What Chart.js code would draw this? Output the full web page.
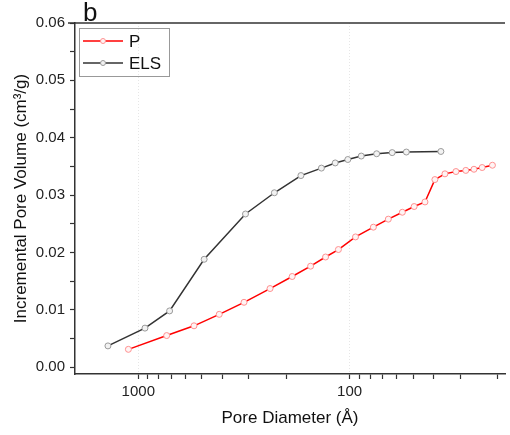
<!DOCTYPE html>
<html>
<head>
<meta charset="utf-8">
<script src="https://cdn.jsdelivr.net/npm/chart.js@4.4.1/dist/chart.umd.min.js"></script>
<style>
  html, body { margin: 0; padding: 0; background: #fff; }
  #wrap { width: 510px; height: 435px; position: relative; }
</style>
</head>
<body>
<div id="wrap"><canvas id="poreChart"></canvas></div>
<script>
// Pore diameter (Å) and incremental pore volume (cm3/g)
const pDiameter = [1114, 734, 545, 414, 316, 238, 187, 153, 130, 113, 93.8, 77.2, 65.6, 56.3, 49.5, 44.0, 39.5, 35.4, 31.4, 28.2, 25.8, 23.6, 21.1];
const pVolume = [0.0031, 0.0055, 0.0072, 0.0092, 0.0113, 0.0137, 0.0158, 0.0176, 0.0192, 0.0205, 0.0227, 0.0244, 0.0258, 0.0270, 0.0280, 0.0288, 0.0327, 0.0337, 0.0341, 0.0343, 0.0345, 0.0348, 0.0352];

const elsDiameter = [1392, 930, 711, 488, 311, 227, 170, 136, 117, 102, 88.1, 74.5, 62.9, 53.9, 37.0];
const elsVolume = [0.0037, 0.0068, 0.0098, 0.0188, 0.0267, 0.0304, 0.0334, 0.0347, 0.0356, 0.0362, 0.0368, 0.0372, 0.0374, 0.0375, 0.0376];

// axis ticks
const xTicks = [1000, 900, 800, 700, 600, 500, 400, 300, 200, 100, 90, 80, 70, 60, 50, 40, 30, 20];
const xLabels = [1000, 100];
const yTicks = [0, 0.005, 0.01, 0.015, 0.02, 0.025, 0.03, 0.035, 0.04, 0.045, 0.05, 0.055, 0.06];

const FONT = "'Liberation Sans', Arial, sans-serif";

function toPoints(xs, ys) {
    return xs.map((x, i) => ({ x: x, y: ys[i] }));
}

// legend box, top frame line and panel letter
const extras = {
    id: 'extras',
    afterDraw(chart) {
        const ctx = chart.ctx;
        const area = chart.chartArea;
        ctx.save();

        // top frame
        ctx.strokeStyle = '#333';
        ctx.lineWidth = 1.5;
        ctx.beginPath();
        ctx.moveTo(area.left - 7, area.top);
        ctx.lineTo(area.right, area.top);
        ctx.stroke();

        // panel letter
        ctx.fillStyle = '#111';
        ctx.font = '26px ' + FONT;
        ctx.textAlign = 'left';
        ctx.textBaseline = 'alphabetic';
        ctx.fillText('b', 83, 21);

        // legend
        ctx.strokeStyle = '#999';
        ctx.lineWidth = 1;
        ctx.strokeRect(79.5, 28.5, 90, 48);
        ctx.font = '17px ' + FONT;
        ctx.textBaseline = 'middle';
        chart.data.datasets.forEach((ds, i) => {
            const y = 41 + i * 22;
            ctx.strokeStyle = ds.borderColor;
            ctx.lineWidth = ds.borderWidth;
            ctx.beginPath();
            ctx.moveTo(83, y);
            ctx.lineTo(123, y);
            ctx.stroke();
            ctx.beginPath();
            ctx.arc(103, y, 2.5, 0, Math.PI * 2);
            ctx.fillStyle = ds.pointBackgroundColor;
            ctx.fill();
            ctx.strokeStyle = ds.pointBorderColor;
            ctx.lineWidth = 1;
            ctx.stroke();
            ctx.fillStyle = '#111';
            ctx.fillText(ds.label, 129, y + 1);
        });
        ctx.restore();
    }
};

const ctx = document.getElementById('poreChart').getContext('2d');
const poreChart = new Chart(ctx, {
    type: 'line',
    data: {
        datasets: [{
            label: 'P',
            data: toPoints(pDiameter, pVolume),
            borderColor: '#ff0000',
            borderWidth: 1.5,
            pointRadius: 3,
            pointBorderWidth: 1,
            pointBorderColor: '#ff9090',
            pointBackgroundColor: '#fff4f4',
            tension: 0
        }, {
            label: 'ELS',
            data: toPoints(elsDiameter, elsVolume),
            borderColor: '#333333',
            borderWidth: 1.5,
            pointRadius: 3,
            pointBorderWidth: 1,
            pointBorderColor: '#9a9a9a',
            pointBackgroundColor: '#f2f2f2',
            tension: 0
        }]
    },
    options: {
        responsive: true,
        maintainAspectRatio: false,
        animation: false,
        layout: {
            padding: { top: 23, right: 0, bottom: 0, left: 0 }
        },
        scales: {
            x: {
                type: 'logarithmic',
                reverse: true,
                min: 18.4,
                max: 1993,
                afterBuildTicks: scale => {
                    scale.ticks = xTicks.map(v => ({ value: v }));
                },
                afterFit: scale => { scale.height = 61; },
                ticks: {
                    autoSkip: false,
                    maxRotation: 0,
                    padding: 4,
                    color: '#222',
                    font: { family: FONT, size: 15 },
                    callback: value => xLabels.includes(value) ? String(value) : ''
                },
                grid: {
                    color: c => (c.tick && xLabels.includes(c.tick.value)) ? '#e6e6e6' : 'rgba(0,0,0,0)',
                    lineWidth: 1,
                    tickColor: '#333',
                    tickLength: 5,
                    tickWidth: 1.2
                },
                border: {
                    display: true,
                    color: '#333',
                    width: 1.5,
                    dash: [1, 2]
                },
                title: {
                    display: true,
                    text: 'Pore Diameter (Å)',
                    color: '#111',
                    font: { family: FONT, size: 17 },
                    padding: { top: 0, bottom: 6.5 }
                }
            },
            y: {
                min: -0.0012,
                max: 0.06,
                afterBuildTicks: scale => {
                    scale.ticks = yTicks.map(v => ({ value: v }));
                },
                afterFit: scale => { scale.width = 75; },
                ticks: {
                    padding: 5,
                    color: '#222',
                    font: { family: FONT, size: 15 },
                    callback: value => (Math.abs(value * 100 - Math.round(value * 100)) < 1e-6) ? value.toFixed(2) : ''
                },
                grid: {
                    drawOnChartArea: false,
                    tickColor: '#333',
                    tickLength: 5,
                    tickWidth: 1.2
                },
                border: {
                    display: true,
                    color: '#333',
                    width: 1.5
                },
                title: {
                    display: true,
                    text: 'Incremental Pore Volume (cm³/g)',
                    color: '#111',
                    font: { family: FONT, size: 17 },
                    padding: { top: 11, bottom: 0 }
                }
            }
        },
        plugins: {
            legend: { display: false },
            tooltip: { enabled: false }
        }
    },
    plugins: [extras]
});
</script>
</body>
</html>
